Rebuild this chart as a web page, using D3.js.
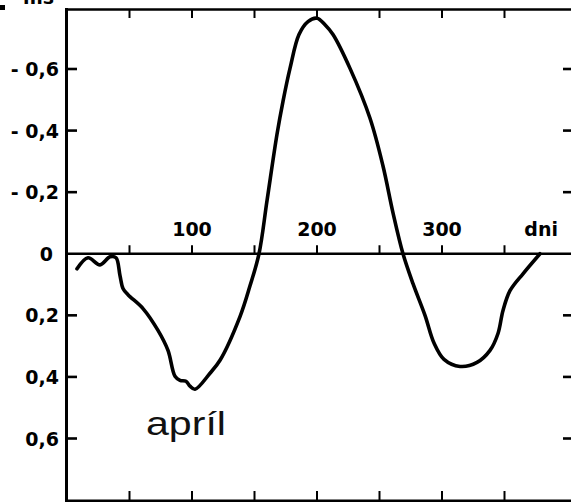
<!DOCTYPE html>
<html>
<head>
<meta charset="utf-8">
<script src="https://cdn.jsdelivr.net/npm/d3@7"></script>
<style>
  html, body { margin: 0; padding: 0; background: #fff; }
  svg { display: block; }
  .lbl { font-family: "DejaVu Sans", sans-serif; font-weight: bold; font-size: 19px; fill: #000; }
</style>
</head>
<body>
<svg id="chart" width="571" height="502"></svg>
<script>
// Day of year of each reading
const days = [8, 16.8, 26.4, 34.4, 39.2, 42.4, 44.8, 48.8, 60.8, 72.8, 80.8, 86.4, 90.4, 95.2,
  98.4, 102.4, 114.4, 122.4, 138.4, 146.4, 153.6, 160, 168, 172.8, 178.4, 185.6, 192.8, 200,
  206.4, 212.8, 226.4, 242.4, 252.8, 260.8, 268.8, 276.8, 286.4, 293.6, 301.6, 314.4, 328,
  338.4, 344.8, 348.8, 354.4, 364.8, 378.4];
// Deviation in ms (negative values plotted above the zero line)
const deviation = [0.049, 0.013, 0.036, 0.010, 0.013, 0.071, 0.113, 0.133, 0.178, 0.249, 0.314,
  0.398, 0.411, 0.414, 0.430, 0.440, 0.388, 0.346, 0.204, 0.104, 0, -0.172, -0.388, -0.495,
  -0.602, -0.712, -0.754, -0.765, -0.744, -0.712, -0.602, -0.440, -0.285, -0.133, 0, 0.097,
  0.200, 0.290, 0.343, 0.366, 0.353, 0.314, 0.259, 0.184, 0.120, 0.065, 0];

const xTickDays = [50, 100, 150, 200, 250, 300, 350];
const xLabelDays = [100, 200, 300];
const yTickValues = [-0.6, -0.4, -0.2, 0, 0.2, 0.4, 0.6];
const yTickLabels = ["- 0,6", "- 0,4", "- 0,2", "0", "0,2", "0,4", "0,6"];

const W = 571, H = 502;
const frameLeft = 66.5, frameTop = 9.5, frameBottom = 501;

const svg = d3.select("#chart");
const x = d3.scaleLinear().domain([0, 400]).range([67, 567]);
const y = d3.scaleLinear().domain([-0.6, 0.6]).range([69, 438.5]);

const ink = "#000";

// frame: left, top, bottom
svg.append("line").attr("x1", frameLeft).attr("x2", frameLeft).attr("y1", frameTop - 1.5).attr("y2", H)
  .attr("stroke", ink).attr("stroke-width", 3);
svg.append("line").attr("x1", frameLeft - 1.5).attr("x2", W).attr("y1", frameTop).attr("y2", frameTop)
  .attr("stroke", ink).attr("stroke-width", 2.6);
svg.append("line").attr("x1", frameLeft - 1.5).attr("x2", W).attr("y1", frameBottom).attr("y2", frameBottom)
  .attr("stroke", ink).attr("stroke-width", 3);

// zero line
svg.append("line").attr("x1", frameLeft).attr("x2", W).attr("y1", y(0)).attr("y2", y(0))
  .attr("stroke", ink).attr("stroke-width", 2.6);

// day ticks on top, zero line and bottom
const g = svg.append("g").attr("stroke", ink).attr("stroke-width", 2);
xTickDays.forEach(d => {
  g.append("line").attr("x1", x(d)).attr("x2", x(d)).attr("y1", frameTop).attr("y2", frameTop + 8.5);
  g.append("line").attr("x1", x(d)).attr("x2", x(d)).attr("y1", y(0)).attr("y2", y(0) - 8.5);
  g.append("line").attr("x1", x(d)).attr("x2", x(d)).attr("y1", frameBottom).attr("y2", frameBottom - 10);
});

// value ticks on both sides
yTickValues.forEach(v => {
  if (v === 0) return;
  g.append("line").attr("x1", frameLeft).attr("x2", frameLeft + 10.5).attr("y1", y(v)).attr("y2", y(v))
    .attr("stroke-width", 2.6);
  g.append("line").attr("x1", W - 8).attr("x2", W).attr("y1", y(v)).attr("y2", y(v))
    .attr("stroke-width", 2.6);
});

// value labels
yTickValues.forEach((v, i) => {
  svg.append("text").attr("class", "lbl")
    .attr("x", v === 0 ? 53 : 59).attr("y", y(v) + 7)
    .attr("text-anchor", "end").text(yTickLabels[i]);
});

// day labels
xLabelDays.forEach(d => {
  svg.append("text").attr("class", "lbl")
    .attr("x", x(d)).attr("y", 236).attr("text-anchor", "middle").text(d);
});
svg.append("text").attr("class", "lbl").attr("x", 558).attr("y", 236)
  .attr("text-anchor", "end").text("dni");

// unit, sitting at the very top edge of the sheet
svg.append("rect").attr("x", 0).attr("y", 5).attr("width", 5).attr("height", 5).attr("fill", ink);
svg.append("text").attr("class", "lbl").attr("x", 23).attr("y", 4).text("ms");

// curve
const pts = days.map((d, i) => [d, deviation[i]]);
const line = d3.line().x(p => x(p[0])).y(p => y(p[1])).curve(d3.curveCatmullRom.alpha(0.5));
svg.append("path").attr("d", line(pts)).attr("fill", "none").attr("stroke", ink)
  .attr("stroke-width", 3.6).attr("stroke-linejoin", "round").attr("stroke-linecap", "round");

// month annotation
svg.append("text").attr("x", 146).attr("y", 435)
  .attr("font-family", "Liberation Sans, Arial, sans-serif").attr("font-size", 33)
  .attr("textLength", 80).attr("lengthAdjust", "spacingAndGlyphs")
  .attr("fill", "#111").text("apríl");
</script>
</body>
</html>
